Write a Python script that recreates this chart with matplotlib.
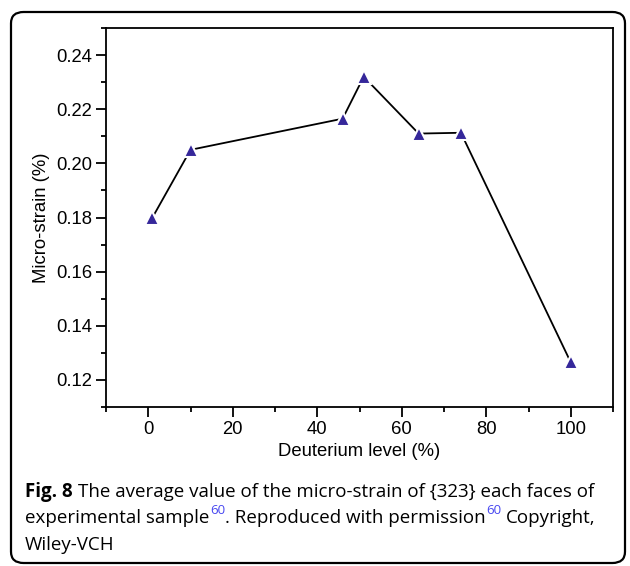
import matplotlib
matplotlib.use("Agg")
import matplotlib.pyplot as plt
from matplotlib.patches import FancyBboxPatch
from matplotlib.ticker import MultipleLocator

# deuterium level (%) vs average micro-strain (%)
deuterium = [1, 10, 46, 51, 64, 74, 100]
strain = [0.180, 0.205, 0.2165, 0.232, 0.211, 0.2113, 0.1265]

x_ticks = [0, 20, 40, 60, 80, 100]
y_ticks = [0.12, 0.14, 0.16, 0.18, 0.20, 0.22, 0.24]

plt.rcParams['font.family'] = ['Liberation Sans', 'DejaVu Sans']

W, H = 630, 566
fig = plt.figure(figsize=(W / 100, H / 100), dpi=100)

# rounded frame round the whole figure
frame = FancyBboxPatch((11 / W, 3 / H), 614 / W, 551 / H,
                       boxstyle="round,pad=0,rounding_size=0.02",
                       transform=fig.transFigure, fill=False,
                       edgecolor='black', linewidth=1.6, zorder=0)
fig.patches.append(frame)

ax = fig.add_axes([106 / W, 1 - 407 / H, 507 / W, 379 / H])
ax.plot(deuterium, strain, color='black', linewidth=1.3, zorder=2)
ax.plot(deuterium, strain, linestyle='none', marker='^', markersize=10.5,
        markerfacecolor='#35279a', markeredgecolor='white',
        markeredgewidth=1.5, zorder=3)

ax.set_xlim(-10, 110)
ax.set_ylim(0.11, 0.25)
ax.set_xticks(x_ticks)
ax.set_yticks(y_ticks)
ax.set_yticklabels([f"{v:.2f}" for v in y_ticks])
ax.xaxis.set_minor_locator(MultipleLocator(10))
ax.yaxis.set_minor_locator(MultipleLocator(0.01))
ax.tick_params(which='both', direction='out', top=False, right=False,
               labelsize=13.3, width=1.3)
ax.tick_params(which='major', length=7, pad=3)
ax.tick_params(which='minor', length=3.5)
for s in ax.spines.values():
    s.set_linewidth(1.3)

ax.set_xlabel('Deuterium level (%)', fontsize=13.3, labelpad=4)
ax.set_ylabel('Micro-strain (%)', fontsize=13.3, labelpad=4)

# caption, built piece by piece so the superscripts can be blue
renderer = fig.canvas.get_renderer()
cap_font = ['Open Sans', 'DejaVu Sans']
blue = '#4747f0'


def put(x, y, s, **kw):
    t = fig.text(x / W, 1 - y / H, s, family=cap_font, va='baseline', **kw)
    bb = t.get_window_extent(renderer)
    return bb.x1


size = 13.5
x = put(25, 497, 'Fig. 8', fontsize=size, weight='bold')
put(x + 5, 497, 'The average value of the micro-strain of {323} each faces of',
    fontsize=size)
x = put(25, 523, 'experimental sample', fontsize=size)
x = put(x + 0.5, 514, '60', fontsize=9.5, color=blue)
x = put(x, 523, '. Reproduced with permission', fontsize=size)
x = put(x + 0.5, 514, '60', fontsize=9.5, color=blue)
put(x + 5, 523, 'Copyright,', fontsize=size)
put(25, 550, 'Wiley-VCH', fontsize=size)

fig.savefig('out.png', dpi=100)
